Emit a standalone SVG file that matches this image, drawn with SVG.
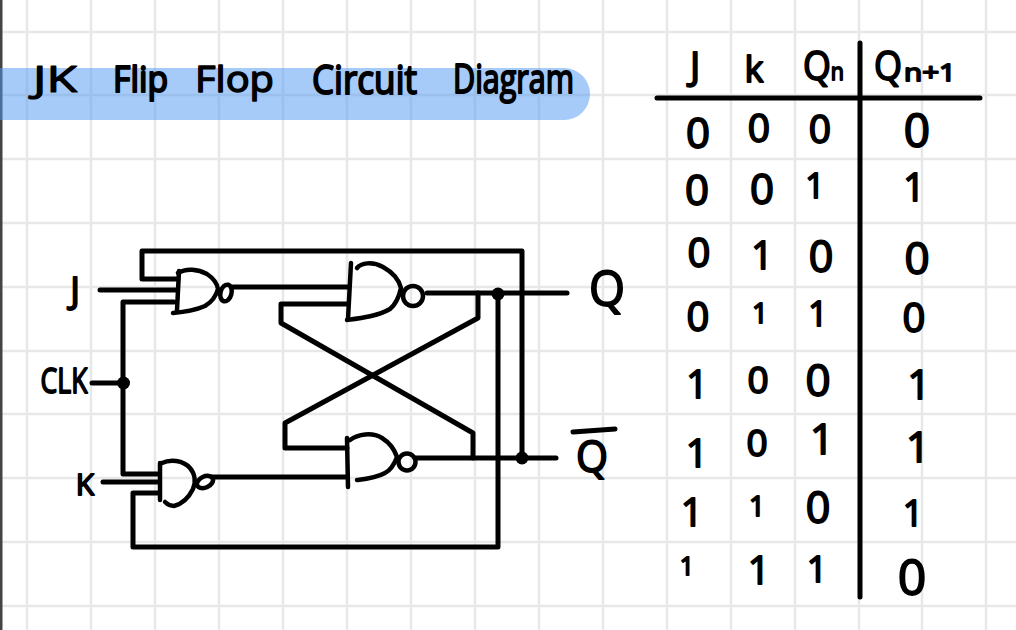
<svg xmlns="http://www.w3.org/2000/svg" width="1016" height="630" viewBox="0 0 1016 630">
<style>
.grid{stroke:#e8e8e8;stroke-width:2.5;fill:none}
.wire{stroke:#000;stroke-width:5;fill:none;stroke-linecap:round;stroke-linejoin:round}
.gate{stroke:#000;stroke-width:4.500;fill:none;stroke-linecap:round;stroke-linejoin:round}
.dot{fill:#000}
.t{font-family:"Open Sans","Noto Sans",sans-serif;fill:#000;stroke:#000;stroke-width:1.800;stroke-linejoin:round;text-anchor:middle}
.w{text-anchor:start}
.title{font-size:36px;stroke-width:2}
.rule{stroke:#000;stroke-width:5;fill:none;stroke-linecap:round}
</style>
<rect width="1016" height="630" fill="#fff"/>
<path class="grid" d="M27 0V630M91 0V630M155 0V630M219 0V630M283 0V630M347 0V630M411 0V630M475 0V630M539 0V630M603 0V630M667 0V630M731 0V630M795 0V630M859 0V630M922 0V630M986 0V630M0 32H1016M0 95H1016M0 159H1016M0 223H1016M0 287H1016M0 351H1016M0 414H1016M0 478H1016M0 542H1016M0 606H1016"/>
<rect x="0" y="0" width="2.500" height="630" fill="#444"/>
<g id="title">
<path d="M0 68H564a26 26 0 0 1 0 52H0Z" fill="#4d97f3" fill-opacity=".5"/>
<text class="t w title" x="33" y="92" style="font-size:36px;stroke-width:1.200" textLength="44" lengthAdjust="spacingAndGlyphs">JK</text>
<text class="t w title" x="113" y="92" textLength="55" lengthAdjust="spacingAndGlyphs">Flip</text>
<text class="t w title" x="195" y="92" style="stroke-width:1.400" textLength="79" lengthAdjust="spacingAndGlyphs">Flop</text>
<text class="t w title" x="312" y="94" style="font-size:40px" textLength="105" lengthAdjust="spacingAndGlyphs">Circuit</text>
<text class="t w title" x="453" y="93" style="font-size:40px" textLength="121" lengthAdjust="spacingAndGlyphs">Diagram</text>
</g>
<g id="connectors">
<path class="wire" d="M178 279H142V251H522V458"/>
<path class="wire" d="M100 290H176"/>
<path class="wire" d="M174 302H123V474H158"/>
<path class="wire" d="M92 383H123"/>
<path class="wire" d="M103 482H158"/>
<path class="wire" d="M158 493H133V547H498V294"/>
<path class="wire" d="M233 287H347"/>
<path class="wire" d="M212 477H347"/>
<path class="wire" d="M347 304H281V323L473 433V458"/>
<path class="wire" d="M347 448H285V423L478 318V293"/>
<path class="wire" d="M427 293H567"/>
<path class="wire" d="M415 458H556"/>
<circle class="dot" cx="123.500" cy="383" r="6.500"/>
<circle class="dot" cx="498" cy="294" r="6.500"/>
<circle class="dot" cx="522" cy="458" r="6.500"/>
</g>
<g id="gate-j">
<path class="gate" d="M179 271L177 310"/>
<path class="gate" d="M178 273C186 268 198 269 207 274C213 278 217 283 218 289C216 296 212 302 205 306C196 310 185 312 173 313"/>
<ellipse class="gate" cx="226" cy="293" rx="5.500" ry="8.500" transform="rotate(15 226 293)"/>
</g>
<g id="gate-k">
<path class="gate" d="M160 463V500"/>
<path class="gate" d="M162 463C170 459 183 460 190 468C195 474 196 482 193 489C189 497 182 504 174 506C171 506 168 505 165 502"/>
<ellipse class="gate" cx="205" cy="482" rx="8.500" ry="5.500" transform="rotate(-25 205 482)"/>
</g>
<g id="gate-upper">
<path class="gate" d="M351 263L348 319"/>
<path class="gate" d="M357 268C361 263 372 261 383 267C392 272 399 280 401 288C399 297 396 304 390 309C378 316 362 318 347 320"/>
<circle class="gate" cx="413" cy="296" r="10"/>
</g>
<g id="gate-lower">
<path class="gate" d="M347 438L348 487"/>
<path class="gate" d="M350 440C358 434 372 432 382 438C390 443 395 451 397 457C394 465 391 470 385 473C376 478 366 479 357 480"/>
<circle class="gate" cx="407" cy="462" r="8.500"/>
</g>
<g id="label-j"><text class="t" x="75" y="303" font-size="36">J</text></g>
<g id="label-clk"><text class="t" x="64" y="393" font-size="34" textLength="47" lengthAdjust="spacingAndGlyphs">CLK</text></g>
<g id="label-k"><text class="t" x="85" y="495" font-size="30">K</text></g>
<g id="label-q"><text class="t" x="607" y="306" font-size="50" textLength="36" lengthAdjust="spacingAndGlyphs">Q</text></g>
<g id="label-q-bar"><path class="wire" d="M573 432L615 429"/><text class="t" x="592" y="472" font-size="44" textLength="32" lengthAdjust="spacingAndGlyphs">Q</text></g>
<g id="truth-table">
<path class="rule" d="M657 98H980M860 43V597"/>
<text class="t" x="695" y="80" font-size="38">J</text>
<text class="t" x="754" y="82" font-size="36">k</text>
<text class="t w" x="803" y="80" font-size="40" textLength="41" lengthAdjust="spacingAndGlyphs">Q<tspan font-size="24">n</tspan></text>
<text class="t" x="888" y="80" font-size="40" textLength="28" lengthAdjust="spacingAndGlyphs">Q</text>
<text class="t w" x="904" y="81" font-size="24" textLength="52" lengthAdjust="spacingAndGlyphs">n+1</text>
<text class="t" x="698" y="148" font-size="42">0</text><text class="t" x="759" y="142" font-size="39">0</text><text class="t" x="820" y="143" font-size="39">0</text><text class="t" x="917" y="147" font-size="46">0</text>
<text class="t" x="697" y="205" font-size="42">0</text><text class="t" x="762" y="204" font-size="42">0</text><text class="t" x="815" y="198" font-size="34">1</text><text class="t" x="914" y="201" font-size="38">1</text>
<text class="t" x="699" y="267" font-size="40">0</text><text class="t" x="762" y="269" font-size="38">1</text><text class="t" x="821" y="272" font-size="43">0</text><text class="t" x="917" y="274" font-size="44">0</text>
<text class="t" x="698" y="331" font-size="40">0</text><text class="t" x="760" y="323" font-size="28">1</text><text class="t" x="818" y="326" font-size="34">1</text><text class="t" x="914" y="332" font-size="40">0</text>
<text class="t" x="697" y="398" font-size="38">1</text><text class="t" x="758" y="393" font-size="37">0</text><text class="t" x="818" y="396" font-size="44">0</text><text class="t" x="919" y="399" font-size="40">1</text>
<text class="t" x="697" y="467" font-size="39">1</text><text class="t" x="757" y="456" font-size="37">0</text><text class="t" x="822" y="454" font-size="42">1</text><text class="t" x="918" y="462" font-size="42">1</text>
<text class="t" x="692" y="526" font-size="39">1</text><text class="t" x="757" y="516" font-size="28">1</text><text class="t" x="818" y="523" font-size="43">0</text><text class="t" x="913" y="526" font-size="36">1</text>
<text class="t" x="687" y="575" font-size="25">1</text><text class="t" x="759" y="584" font-size="39">1</text><text class="t" x="817" y="582" font-size="36">1</text><text class="t" x="912" y="595" font-size="50">0</text>
</g>
</svg>
